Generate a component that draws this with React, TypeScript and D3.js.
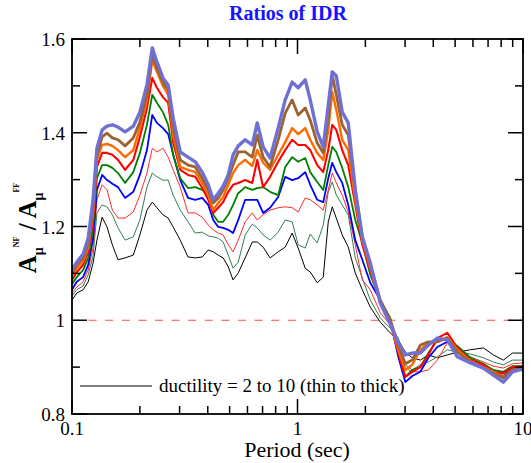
import React from "react";
import * as d3 from "d3";

const periods = [0.1, 0.105, 0.112, 0.118, 0.124, 0.129, 0.136, 0.143, 0.151, 0.16, 0.172, 0.187, 0.2, 0.215, 0.227, 0.238, 0.253, 0.267, 0.281, 0.302, 0.327, 0.352, 0.378, 0.402, 0.423, 0.445, 0.468, 0.493, 0.518, 0.546, 0.586, 0.63, 0.663, 0.704, 0.756, 0.821, 0.882, 0.947, 1.007, 1.082, 1.139, 1.223, 1.301, 1.369, 1.426, 1.486, 1.579, 1.679, 1.804, 1.938, 2.103, 2.329, 2.578, 2.799, 3.006, 3.228, 3.505, 3.804, 4.169, 4.617, 5.114, 5.841, 6.671, 7.389, 8.185, 8.974, 10.0];

const mu2 = [1.043, 1.058, 1.065, 1.082, 1.122, 1.171, 1.220, 1.199, 1.161, 1.129, 1.133, 1.139, 1.182, 1.235, 1.252, 1.240, 1.225, 1.218, 1.199, 1.171, 1.135, 1.133, 1.135, 1.150, 1.146, 1.139, 1.133, 1.114, 1.086, 1.101, 1.133, 1.167, 1.167, 1.156, 1.133, 1.146, 1.156, 1.186, 1.154, 1.111, 1.103, 1.080, 1.092, 1.210, 1.242, 1.218, 1.182, 1.156, 1.101, 1.065, 1.028, 0.996, 0.973, 0.958, 0.932, 0.920, 0.915, 0.926, 0.920, 0.926, 0.932, 0.937, 0.941, 0.926, 0.915, 0.930, 0.930];
const mu3 = [1.052, 1.065, 1.073, 1.097, 1.137, 1.229, 1.246, 1.242, 1.225, 1.197, 1.171, 1.178, 1.214, 1.284, 1.314, 1.306, 1.299, 1.299, 1.267, 1.235, 1.210, 1.186, 1.188, 1.180, 1.178, 1.175, 1.167, 1.139, 1.111, 1.124, 1.182, 1.205, 1.197, 1.182, 1.171, 1.188, 1.214, 1.210, 1.161, 1.154, 1.184, 1.165, 1.203, 1.274, 1.295, 1.267, 1.246, 1.225, 1.133, 1.090, 1.043, 1.005, 0.983, 0.962, 0.905, 0.894, 0.905, 0.911, 0.922, 0.937, 0.932, 0.928, 0.920, 0.911, 0.905, 0.915, 0.915];
const mu4 = [1.058, 1.071, 1.082, 1.107, 1.154, 1.257, 1.289, 1.278, 1.235, 1.218, 1.218, 1.231, 1.267, 1.314, 1.367, 1.359, 1.367, 1.348, 1.321, 1.284, 1.229, 1.229, 1.220, 1.203, 1.193, 1.186, 1.182, 1.161, 1.146, 1.171, 1.210, 1.229, 1.214, 1.225, 1.235, 1.240, 1.242, 1.240, 1.231, 1.261, 1.257, 1.246, 1.235, 1.278, 1.314, 1.293, 1.267, 1.231, 1.161, 1.086, 1.065, 1.016, 0.990, 0.952, 0.898, 0.890, 0.890, 0.894, 0.915, 0.952, 0.937, 0.922, 0.911, 0.902, 0.898, 0.907, 0.909];
const mu5 = [1.065, 1.082, 1.092, 1.118, 1.175, 1.278, 1.310, 1.299, 1.291, 1.284, 1.261, 1.274, 1.310, 1.363, 1.438, 1.421, 1.410, 1.397, 1.353, 1.299, 1.261, 1.257, 1.261, 1.246, 1.214, 1.199, 1.197, 1.193, 1.186, 1.214, 1.257, 1.257, 1.257, 1.229, 1.240, 1.263, 1.306, 1.299, 1.303, 1.316, 1.289, 1.257, 1.252, 1.303, 1.336, 1.316, 1.293, 1.246, 1.171, 1.129, 1.080, 1.043, 1.001, 0.922, 0.868, 0.881, 0.890, 0.920, 0.943, 0.954, 0.941, 0.915, 0.902, 0.890, 0.881, 0.898, 0.900];
const mu6 = [1.077, 1.092, 1.107, 1.133, 1.197, 1.303, 1.331, 1.331, 1.325, 1.314, 1.293, 1.316, 1.357, 1.417, 1.481, 1.464, 1.444, 1.417, 1.353, 1.303, 1.282, 1.284, 1.278, 1.267, 1.225, 1.210, 1.210, 1.225, 1.246, 1.271, 1.284, 1.278, 1.282, 1.284, 1.274, 1.267, 1.327, 1.348, 1.338, 1.346, 1.316, 1.295, 1.278, 1.331, 1.370, 1.359, 1.325, 1.284, 1.214, 1.165, 1.097, 1.043, 1.005, 0.932, 0.879, 0.894, 0.900, 0.930, 0.958, 0.958, 0.945, 0.920, 0.907, 0.894, 0.890, 0.902, 0.902];
const mu7 = [1.086, 1.103, 1.118, 1.146, 1.214, 1.327, 1.357, 1.357, 1.353, 1.342, 1.321, 1.342, 1.391, 1.453, 1.517, 1.496, 1.476, 1.464, 1.380, 1.321, 1.310, 1.306, 1.282, 1.257, 1.229, 1.240, 1.252, 1.274, 1.289, 1.293, 1.299, 1.293, 1.342, 1.284, 1.306, 1.338, 1.363, 1.385, 1.374, 1.374, 1.363, 1.331, 1.316, 1.363, 1.417, 1.406, 1.363, 1.331, 1.246, 1.161, 1.107, 1.039, 0.996, 0.930, 0.879, 0.890, 0.900, 0.926, 0.962, 0.973, 0.941, 0.915, 0.905, 0.890, 0.887, 0.900, 0.902];
const mu8 = [1.094, 1.111, 1.126, 1.154, 1.229, 1.342, 1.374, 1.376, 1.372, 1.363, 1.348, 1.363, 1.410, 1.470, 1.555, 1.530, 1.500, 1.481, 1.395, 1.327, 1.321, 1.316, 1.293, 1.267, 1.235, 1.250, 1.263, 1.289, 1.314, 1.331, 1.342, 1.329, 1.363, 1.336, 1.321, 1.353, 1.380, 1.410, 1.397, 1.410, 1.385, 1.357, 1.342, 1.406, 1.487, 1.449, 1.385, 1.363, 1.257, 1.171, 1.111, 1.037, 0.996, 0.937, 0.894, 0.905, 0.937, 0.952, 0.954, 0.964, 0.937, 0.913, 0.900, 0.890, 0.879, 0.894, 0.896];
const mu9 = [1.101, 1.118, 1.133, 1.165, 1.242, 1.353, 1.391, 1.399, 1.389, 1.385, 1.372, 1.389, 1.423, 1.481, 1.566, 1.538, 1.508, 1.491, 1.410, 1.342, 1.331, 1.327, 1.303, 1.278, 1.250, 1.261, 1.278, 1.303, 1.331, 1.359, 1.359, 1.348, 1.395, 1.348, 1.327, 1.385, 1.442, 1.470, 1.438, 1.453, 1.427, 1.378, 1.357, 1.431, 1.523, 1.481, 1.417, 1.395, 1.278, 1.178, 1.118, 1.043, 1.001, 0.947, 0.907, 0.915, 0.947, 0.954, 0.954, 0.962, 0.932, 0.911, 0.898, 0.887, 0.877, 0.894, 0.898];
const mu10 = [1.107, 1.124, 1.141, 1.175, 1.257, 1.367, 1.406, 1.414, 1.417, 1.412, 1.402, 1.414, 1.444, 1.502, 1.581, 1.551, 1.517, 1.502, 1.431, 1.359, 1.348, 1.338, 1.316, 1.289, 1.257, 1.271, 1.286, 1.310, 1.353, 1.372, 1.385, 1.374, 1.421, 1.370, 1.346, 1.410, 1.470, 1.508, 1.496, 1.513, 1.470, 1.402, 1.370, 1.459, 1.530, 1.521, 1.444, 1.421, 1.278, 1.178, 1.122, 1.037, 0.992, 0.952, 0.926, 0.930, 0.930, 0.947, 0.962, 0.958, 0.922, 0.909, 0.898, 0.883, 0.868, 0.890, 0.896];

const seriesValues = [mu2, mu3, mu4, mu5, mu6, mu7, mu8, mu9, mu10];
const seriesColors = ["#000000", "#2e8050", "#ff2a2a", "#0000ff", "#008000", "#ff0000", "#ff6a00", "#9c6232", "#7070d4"];
const seriesWidths = [1, 1, 1, 1.8, 1.8, 2.1, 2.4, 2.8, 3.4];

const yMajor = [0.8, 1, 1.2, 1.4, 1.6];
const yMinor = [0.9, 1.1, 1.3, 1.5];
const yLabels = ["0.8", "1", "1.2", "1.4", "1.6"];
const xMajor = [0.1, 1, 10];
const xLabels = ["0.1", "1", "10"];
const xMinor = [0.2, 0.3, 0.4, 0.5, 0.6, 0.7, 0.8, 0.9, 2, 3, 4, 5, 6, 7, 8, 9];

const W = 531, H = 463;
const L = 72, R = 523, T = 39, B = 414;
const FONT = "'Liberation Serif', 'DejaVu Serif', serif";

export default function App() {
  const x = d3.scaleLog().domain([0.1, 10]).range([L, R]);
  const y = d3.scaleLinear().domain([0.8, 1.6]).range([B, T]);
  const line = d3.line<number>().x((_, i) => x(periods[i])).y((d) => y(d));
  const majLen = 15, minLen = 8;
  const tf = { fontFamily: FONT };

  return (
    <svg width={W} height={H} style={{ position: "absolute", left: 0, top: 0, background: "#fff", fontFamily: FONT }}>
      <text x={288} y={20} textAnchor="middle" fontWeight="bold" fontSize={20} fill="#1414ff" style={tf}>Ratios of IDR</text>
      <defs>
        <clipPath id="plotclip"><rect x={L} y={T} width={R - L} height={B - T} /></clipPath>
      </defs>
      <line x1={L} x2={R} y1={y(1)} y2={y(1)} stroke="#ff4a4a" strokeWidth={1} strokeDasharray="8,8.6" />
      <g clipPath="url(#plotclip)">
        {seriesValues.map((vals, i) => (
          <path key={i} d={line(vals) || ""} fill="none" stroke={seriesColors[i]} strokeWidth={seriesWidths[i]} strokeLinejoin="round" strokeLinecap="round" />
        ))}
      </g>
      <rect x={L} y={T} width={R - L} height={B - T} fill="none" stroke="#000" strokeWidth={1.8} />
      {yMajor.map((v) => (
        <g key={"ym" + v}>
          <line x1={L} x2={L + majLen} y1={y(v)} y2={y(v)} stroke="#000" strokeWidth={1.5} />
          <line x1={R} x2={R - majLen} y1={y(v)} y2={y(v)} stroke="#000" strokeWidth={1.5} />
        </g>
      ))}
      {yMinor.map((v) => (
        <g key={"yn" + v}>
          <line x1={L} x2={L + minLen} y1={y(v)} y2={y(v)} stroke="#000" strokeWidth={1.5} />
          <line x1={R} x2={R - minLen} y1={y(v)} y2={y(v)} stroke="#000" strokeWidth={1.5} />
        </g>
      ))}
      {xMajor.map((v) => (
        <g key={"xm" + v}>
          <line x1={x(v)} x2={x(v)} y1={B} y2={B - majLen} stroke="#000" strokeWidth={1.5} />
          <line x1={x(v)} x2={x(v)} y1={T} y2={T + majLen} stroke="#000" strokeWidth={1.5} />
        </g>
      ))}
      {xMinor.map((v) => (
        <g key={"xn" + v}>
          <line x1={x(v)} x2={x(v)} y1={B} y2={B - minLen} stroke="#000" strokeWidth={1.5} />
          <line x1={x(v)} x2={x(v)} y1={T} y2={T + minLen} stroke="#000" strokeWidth={1.5} />
        </g>
      ))}
      {yMajor.map((v, i) => (
        <text key={"yl" + v} x={65} y={y(v) + 7} textAnchor="end" fontSize={19} fill="#000" style={tf}>{yLabels[i]}</text>
      ))}
      {xMajor.map((v, i) => (
        <text key={"xl" + v} x={x(v)} y={435} textAnchor="middle" fontSize={19} fill="#000" style={tf}>{xLabels[i]}</text>
      ))}
      <text x={297} y={457} textAnchor="middle" fontSize={22} fill="#000" style={tf}>Period (sec)</text>
      <text transform="translate(36,228) rotate(-90)" textAnchor="middle" fontWeight="bold" fontSize={25} fill="#000" style={tf}>
        <tspan>A</tspan>
        <tspan fontSize={14} dy={7}>μ</tspan>
        <tspan fontSize={8} dy={-24}>NF</tspan>
        <tspan dy={17}> / A</tspan>
        <tspan fontSize={14} dy={7}>μ</tspan>
        <tspan fontSize={8} dy={-24}>FF</tspan>
      </text>
      <line x1={80} x2={152} y1={386} y2={386} stroke="#000" strokeWidth={1} />
      <text x={159} y={392} fontSize={19} fill="#000" style={tf}>ductility = 2 to 10 (thin to thick)</text>
    </svg>
  );
}
